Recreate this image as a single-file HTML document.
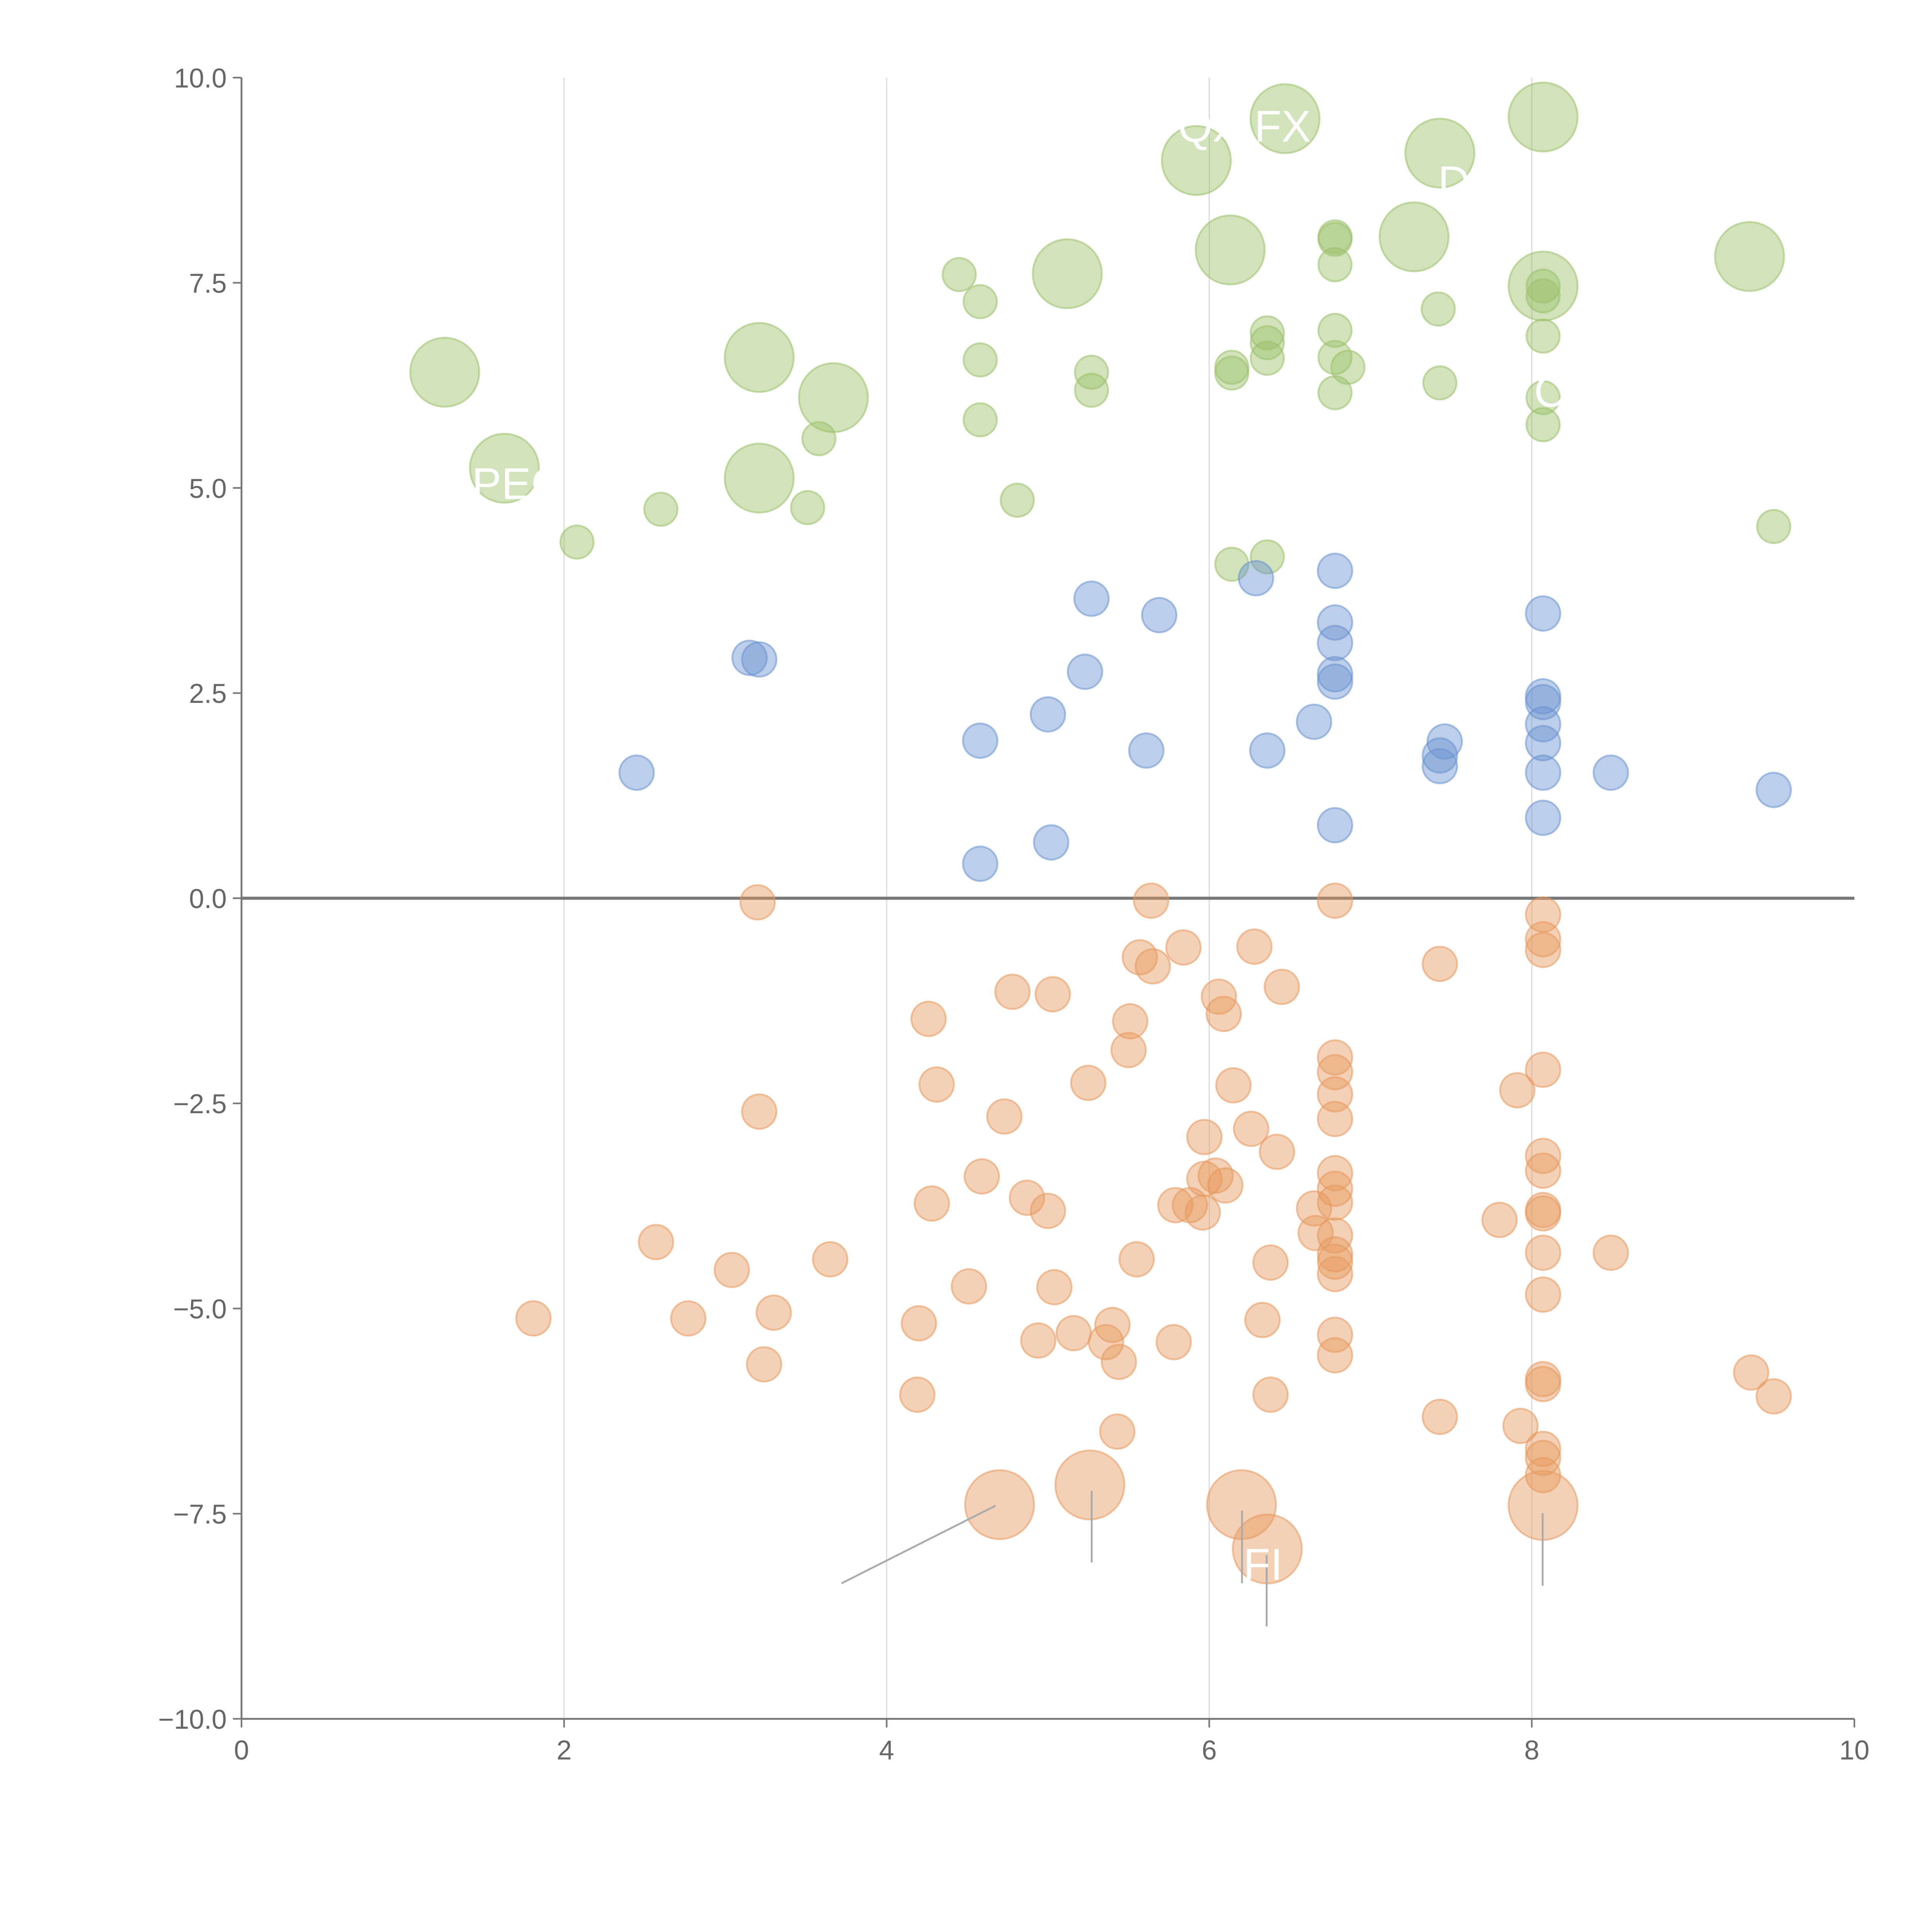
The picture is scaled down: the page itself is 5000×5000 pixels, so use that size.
<!DOCTYPE html>
<html><head><meta charset="utf-8"><style>html,body{margin:0;padding:0;background:#fff}svg{display:block}</style></head>
<body>
<svg id="chart" width="5000" height="5000" viewBox="0 0 1568 1568" xmlns="http://www.w3.org/2000/svg" font-family="Liberation Sans, Arial, sans-serif">
<g id="grid"></g>
<g id="axes"></g>
<g id="marks"></g>
<g id="annot"></g>
</svg>
<script>
const xTicks=[0,2,4,6,8,10];
const yTicks=[-10,-7.5,-5,-2.5,0,2.5,5,7.5,10];
const yTickLabels=["\u221210.0","\u22127.5","\u22125.0","\u22122.5","0.0","2.5","5.0","7.5","10.0"];
const greenX=[4.45,4.58,4.58,4.58,3.58,3.51,2.60,2.08,4.81,5.27,5.27,6.14,6.14,6.36,6.36,6.36,6.78,6.78,6.78,6.78,6.78,6.78,6.86,7.42,7.43,8.07,8.07,8.07,8.07,8.07,9.50,6.14,6.36];
const greenY=[7.60,7.27,6.56,5.83,5.60,4.76,4.74,4.34,4.85,6.41,6.19,6.47,6.40,6.89,6.77,6.58,8.06,8.03,7.72,6.92,6.59,6.16,6.47,7.18,6.28,7.46,7.34,6.85,6.10,5.77,4.53,4.07,4.16];
const greenBigX=[1.26,1.63,3.21,3.21,3.67,5.12,5.92,6.47,6.13,7.27,7.43,8.07,8.07,9.35];
const greenBigY=[6.41,5.24,6.59,5.12,6.10,7.61,8.99,9.50,7.90,8.06,9.08,9.52,7.46,7.82];
const blueX=[3.15,3.21,2.45,4.58,4.58,5.00,5.02,5.23,5.27,5.61,5.69,6.29,6.36,6.65,6.78,6.78,6.78,6.78,6.78,6.78,7.43,7.43,7.46,8.07,8.07,8.07,8.07,8.07,8.07,8.07,8.49,9.50];
const blueY=[2.93,2.91,1.53,1.92,0.42,2.24,0.68,2.76,3.65,1.80,3.45,3.90,1.80,2.15,3.99,3.36,3.11,2.73,2.64,0.89,1.61,1.74,1.91,3.47,2.46,2.39,2.12,1.89,1.53,0.98,1.53,1.32];
const orangeX=[3.20,3.21,2.57,1.81,2.77,3.04,3.24,3.30,3.65,4.20,4.19,4.26,4.28,4.31,4.51,4.59,4.73,4.78,4.87,4.94,5.00,5.03,5.04,5.16,5.25,5.36,5.40,5.44,5.43,5.51,5.50,5.55,5.57,5.65,5.64,5.78,5.79,5.84,5.88,5.96,5.97,5.97,6.04,6.06,6.09,6.10,6.15,6.26,6.28,6.33,6.38,6.38,6.42,6.45,6.65,6.66,6.78,6.78,6.78,6.78,6.78,6.78,6.78,6.78,6.78,6.78,6.78,6.78,6.78,6.78,7.43,7.43,7.80,7.91,7.93,8.07,8.07,8.07,8.07,8.07,8.07,8.07,8.07,8.07,8.07,8.07,8.07,8.07,8.07,8.07,8.49,9.36,9.50];
const orangeY=[-0.05,-2.60,-4.19,-5.12,-5.12,-4.53,-5.68,-5.05,-4.40,-5.18,-6.05,-1.47,-3.72,-2.27,-4.73,-3.39,-2.66,-1.14,-3.65,-5.39,-3.81,-1.17,-4.74,-5.30,-2.25,-5.41,-5.20,-5.65,-6.50,-1.50,-1.85,-4.40,-0.72,-0.83,-0.03,-5.41,-3.74,-0.60,-3.74,-3.83,-2.91,-3.42,-3.38,-1.20,-1.41,-3.50,-2.28,-2.81,-0.59,-5.14,-4.44,-6.05,-3.09,-1.08,-3.78,-4.08,-0.03,-1.94,-2.12,-2.39,-2.69,-3.35,-3.54,-3.71,-4.11,-4.34,-4.43,-4.58,-5.32,-5.57,-0.80,-6.32,-3.92,-2.34,-6.43,-0.20,-0.50,-0.63,-2.09,-3.14,-3.32,-3.80,-3.84,-4.32,-4.83,-5.86,-5.92,-6.71,-6.82,-7.03,-4.32,-5.78,-6.07];
const orangeBigX=[4.70,5.26,6.20,6.36,8.07];
const orangeBigY=[-7.39,-7.15,-7.39,-7.93,-7.40];

const NS="http://www.w3.org/2000/svg";
const X0=196,X1=1505,Y0=1395,Y1=63;
const sx=v=>X0+(v-0)/(10-0)*(X1-X0);
const sy=v=>Y0-(v+10)/20*(Y0-Y1);
function mk(tag,attrs,parent){const e=document.createElementNS(NS,tag);for(const k in attrs)e.setAttribute(k,attrs[k]);parent.appendChild(e);return e;}
const grid=document.getElementById('grid'),axes=document.getElementById('axes'),marks=document.getElementById('marks'),annot=document.getElementById('annot');
xTicks.forEach(t=>{
  if(t>0&&t<10){const g=mk('line',{x1:sx(t),x2:sx(t),y1:Y1,y2:Y0,stroke:'#dddddd','stroke-width':1},grid);
  
  }
  const tk=mk('line',{x1:sx(t),x2:sx(t),y1:Y0,y2:Y0+7,stroke:'#777','stroke-width':1.3},axes);
  
  
  const lb=mk('text',{x:sx(t),y:Y0+33,'text-anchor':'middle','font-size':22,fill:'#666'},axes);
  lb.textContent=String(t);
  
  
});
yTicks.forEach((t,i)=>{
  const tk=mk('line',{x1:X0-7,x2:X0,y1:sy(t),y2:sy(t),stroke:'#777','stroke-width':1.3},axes);
  
  
  const lb=mk('text',{x:X0-12,y:sy(t)+8,'text-anchor':'end','font-size':22,fill:'#666'},axes);
  lb.textContent=yTickLabels[i];
  
  
});
const xa=mk('line',{x1:X0,x2:X1,y1:Y0,y2:Y0,stroke:'#777','stroke-width':1.5},axes);


const ya=mk('line',{x1:X0,x2:X0,y1:Y1,y2:Y0,stroke:'#777','stroke-width':1.5},axes);


const zl=mk('line',{x1:X0,x2:X1,y1:sy(0),y2:sy(0),stroke:'#777','stroke-width':2.5},axes);



function series(xs,ys,r,color,name){
  xs.forEach((x,i)=>{
    const c=mk('circle',{cx:sx(x),cy:sy(ys[i]),r:r,fill:color,'fill-opacity':0.45,stroke:color,'stroke-opacity':0.55,'stroke-width':1.5},marks);
    
    
  });
}
series(greenX,greenY,13.5,'#9cc06a','green-point');
series(greenBigX,greenBigY,28,'#9cc06a','green-large-point');
series(blueX,blueY,14,'#6a93d0','blue-point');
series(orangeX,orangeY,14,'#e6995e','orange-point');
series(orangeBigX,orangeBigY,28,'#e6995e','orange-large-point');

const leaders=[[683,1285,808,1222],[886,1210,886,1268],[1008,1226,1008,1285],[1028,1262,1028,1320],[1252,1228,1252,1287]];
leaders.forEach(l=>{const e=mk('line',{x1:l[0],y1:l[1],x2:l[2],y2:l[3],stroke:'#aaa','stroke-width':1.5},annot);

});
const texts=[["FI",1025,1282],["QX FX",1010,115],["PEC",420,405],["D",1180,160],["C",1258,330]];
texts.forEach(t=>{const e=mk('text',{x:t[1],y:t[2],'text-anchor':'middle','font-size':36,fill:'#fff'},annot);e.textContent=t[0];

});
</script>
</body></html>
